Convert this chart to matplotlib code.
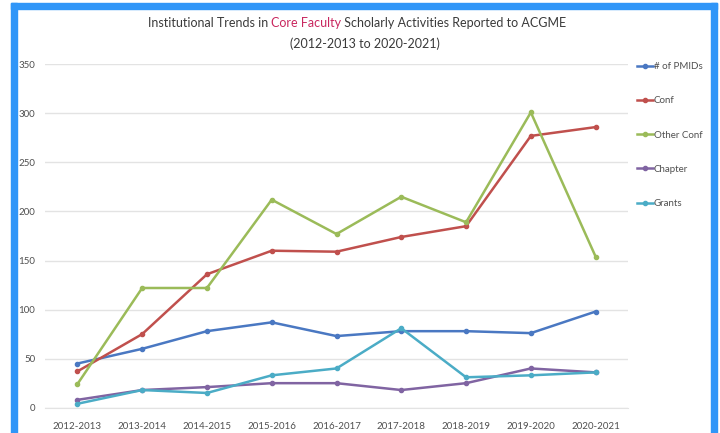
import matplotlib
matplotlib.use("Agg")
import matplotlib.pyplot as plt
from matplotlib.patches import Rectangle

plt.rcParams['font.family'] = ['Lato', 'DejaVu Sans']

categories = ["2012-2013", "2013-2014", "2014-2015", "2015-2016", "2016-2017",
              "2017-2018", "2018-2019", "2019-2020", "2020-2021"]
pmids = [45, 60, 78, 87, 73, 78, 78, 76, 98]
conf = [37, 75, 136, 160, 159, 174, 185, 277, 286]
other_conf = [24, 122, 122, 212, 177, 215, 189, 301, 154]
chapter = [8, 18, 21, 25, 25, 18, 25, 40, 36]
grants = [4, 18, 15, 33, 40, 81, 31, 33, 36]

series = [("# of PMIDs", pmids, "#4A78C2"),
          ("Conf", conf, "#C0504D"),
          ("Other Conf", other_conf, "#9BBB59"),
          ("Chapter", chapter, "#8064A2"),
          ("Grants", grants, "#4BACC6")]

W, H = 720, 433
fig = plt.figure(figsize=(W / 100, H / 100), dpi=100)
fig.patch.set_facecolor("white")

def fx(px):
    return px / W

def fy(py):
    return 1 - py / H

ax = fig.add_axes([fx(45), fy(407.7), fx(628) - fx(45), fy(64.3) - fy(407.7)])
x = list(range(len(categories)))
for name, vals, col in series:
    ax.plot(x, vals, color=col, lw=1.8, marker="o", ms=3, label=name)

ax.set_xlim(-0.5, len(categories) - 0.5)
ax.set_ylim(0, 350)
ax.set_yticks(range(0, 351, 50))
ax.set_xticks(x)
ax.set_xticklabels(categories)
ax.grid(axis="y", color="#E3E3E3", lw=1)
ax.set_axisbelow(True)
for s in ["top", "right", "left"]:
    ax.spines[s].set_visible(False)
ax.spines["bottom"].set_color("#E3E3E3")
ax.tick_params(axis="both", length=0, colors="#505050", labelsize=7)
ax.tick_params(axis="y", pad=7)
ax.tick_params(axis="x", pad=10)

leg = ax.legend(loc="upper left", bbox_to_anchor=(fx(637), fy(62)),
                bbox_transform=fig.transFigure, frameon=False, fontsize=7,
                handlelength=1.6, handletextpad=0.1, labelspacing=2.6,
                borderaxespad=0, borderpad=0)
for t in leg.get_texts():
    t.set_color("#505050")

# Title
title_color = "#3A3A3A"
pink = "#C9275F"
fs = 9
t1 = fig.text(0, 0, "Institutional Trends in ", fontsize=fs, color=title_color)
t2 = fig.text(0, 0, "Core Faculty", fontsize=fs, color=pink)
t3 = fig.text(0, 0, " Scholarly Activities Reported to ACGME", fontsize=fs, color=title_color)
fig.canvas.draw()
r = fig.canvas.get_renderer()
widths = [t.get_window_extent(r).width for t in (t1, t2, t3)]
total = sum(widths)
start = 357 - total / 2
y1 = fy(23)
for t, w in zip((t1, t2, t3), widths):
    t.set_position((fx(start), y1))
    t.set_va("center")
    start += w
fig.text(fx(365), fy(44), "(2012-2013 to 2020-2021)", fontsize=fs, color=title_color,
         ha="center", va="center")

# Blue frame
frame = "#3096F8"
fig.patches.append(Rectangle((fx(11), fy(9)), fx(717) - fx(11), fy(3) - fy(9),
                             transform=fig.transFigure, color=frame, zorder=5))
fig.patches.append(Rectangle((fx(11), 0), fx(17) - fx(11), fy(3),
                             transform=fig.transFigure, color=frame, zorder=5))
fig.patches.append(Rectangle((fx(711), 0), fx(717) - fx(711), fy(3),
                             transform=fig.transFigure, color=frame, zorder=5))

fig.savefig("out.png", dpi=100)
